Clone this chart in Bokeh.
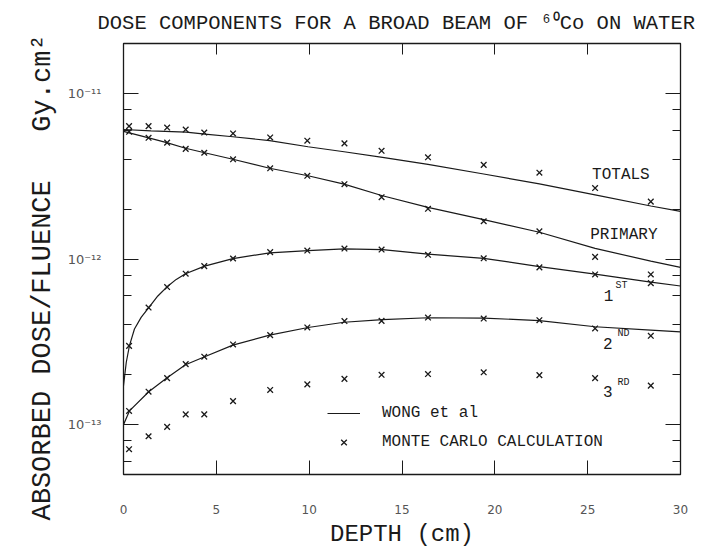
from bokeh.plotting import figure
from bokeh.models import (LogAxis, LinearAxis, Legend, LegendItem, Title, Range1d,
                          FixedTicker, LogTicker, CustomJSTickFormatter, ColumnDataSource)
from bokeh.core.properties import value
from bokeh.embed import file_html
from bokeh.resources import INLINE

FONT = "Liberation Mono"
INK = "#1a1a1a"

# ---- Monte Carlo calculation (crosses) ----
mc_depth = [0.3, 1.35, 2.35, 3.35, 4.35, 5.9, 7.9, 9.9, 11.9, 13.9, 16.4, 19.4, 22.4, 25.4, 28.4]
mc_total = [6.34e-12, 6.34e-12, 6.22e-12, 6.05e-12, 5.80e-12, 5.73e-12, 5.42e-12, 5.18e-12,
            4.99e-12, 4.50e-12, 4.11e-12, 3.70e-12, 3.32e-12, 2.68e-12, 2.22e-12]
mc_primary = [5.86e-12, 5.39e-12, 5.04e-12, 4.62e-12, 4.38e-12, 4.00e-12, 3.53e-12, 3.18e-12,
              2.83e-12, 2.36e-12, 2.01e-12, 1.69e-12, 1.47e-12, 1.03e-12, 8.07e-13]
mc_first = [2.99e-13, 5.09e-13, 6.77e-13, 8.15e-13, 9.06e-13, 1.007e-12, 1.10e-12, 1.125e-12,
            1.156e-12, 1.14e-12, 1.06e-12, 1.01e-12, 8.9e-13, 8.07e-13, 7.15e-13]
mc_second = [1.21e-13, 1.58e-13, 1.91e-13, 2.32e-13, 2.57e-13, 3.05e-13, 3.47e-13, 3.86e-13,
             4.22e-13, 4.23e-13, 4.43e-13, 4.37e-13, 4.27e-13, 3.81e-13, 3.44e-13]
mc_third = [7.11e-14, 8.51e-14, 9.69e-14, 1.153e-13, 1.153e-13, 1.387e-13, 1.62e-13, 1.75e-13,
            1.89e-13, 2.00e-13, 2.02e-13, 2.07e-13, 1.99e-13, 1.91e-13, 1.72e-13]

# ---- Wong et al (solid curves) ----
wong_total_depth = [0, 1.48, 3.37, 4.39, 5.89, 7.87, 9.94, 11.88, 13.95, 16.4, 19.4, 22.4, 25.4, 28.4, 30]
wong_total = [6.05e-12, 5.94e-12, 5.83e-12, 5.67e-12, 5.47e-12, 5.18e-12, 4.76e-12, 4.44e-12,
              4.11e-12, 3.73e-12, 3.26e-12, 2.84e-12, 2.44e-12, 2.09e-12, 1.94e-12]

wong_primary_depth = [0, 1.36, 2.33, 3.34, 4.37, 5.89, 7.87, 9.94, 11.88, 13.95, 16.4, 19.4, 22.4, 25.4, 28.4, 30]
wong_primary = [5.9e-12, 5.39e-12, 5.04e-12, 4.66e-12, 4.38e-12, 4.0e-12, 3.53e-12, 3.18e-12,
                2.83e-12, 2.41e-12, 2.05e-12, 1.73e-12, 1.45e-12, 1.16e-12, 9.7e-13, 8.9e-13]

wong_first_depth = [0, 0.15, 0.32, 0.59, 0.95, 1.36, 1.85, 2.33, 2.84, 3.34, 4.37, 5.89, 7.87,
                    9.94, 11.88, 13.95, 16.4, 19.4, 22.4, 25.4, 28.4, 30]
wong_first = [1.72e-13, 2.38e-13, 3.0e-13, 3.78e-13, 4.44e-13, 5.09e-13, 5.98e-13, 6.77e-13,
              7.53e-13, 8.15e-13, 9.06e-13, 1.005e-12, 1.09e-12, 1.125e-12, 1.15e-12, 1.14e-12,
              1.07e-12, 1.01e-12, 9.0e-13, 8.1e-13, 7.25e-13, 6.87e-13]

wong_second_depth = [0, 0.32, 1.36, 2.33, 3.34, 4.37, 5.89, 7.87, 9.94, 11.88, 13.95, 16.4,
                     19.4, 22.4, 25.4, 28.4, 30]
wong_second = [1.0e-13, 1.21e-13, 1.58e-13, 1.91e-13, 2.30e-13, 2.57e-13, 3.02e-13, 3.47e-13,
               3.86e-13, 4.15e-13, 4.30e-13, 4.42e-13, 4.40e-13, 4.25e-13, 3.90e-13, 3.72e-13, 3.63e-13]

x_ticks = [0, 5, 10, 15, 20, 25, 30]

p = figure(width=703, height=551, x_range=Range1d(0, 30), y_range=Range1d(5e-14, 2e-11),
           y_axis_type="log", output_backend="svg", toolbar_location=None,
           min_border_left=123, min_border_right=23, min_border_top=43, min_border_bottom=77)
p.grid.visible = False
p.outline_line_color = INK
p.outline_line_width = 1.3
p.background_fill_color = "white"
p.border_fill_color = "white"

sup_fmt = CustomJSTickFormatter(code="""
const e = Math.round(Math.log10(tick));
const sup = {"-":"\u207b","0":"\u2070","1":"\u00b9","2":"\u00b2","3":"\u00b3","4":"\u2074",
             "5":"\u2075","6":"\u2076","7":"\u2077","8":"\u2078","9":"\u2079"};
return "10" + String(e).split("").map(c => sup[c]).join("");
""")
blank_fmt = CustomJSTickFormatter(code="return ' ';")

# bottom axis
xa = p.xaxis[0]
xa.ticker = FixedTicker(ticks=x_ticks)
xa.major_tick_in = 14
xa.major_tick_out = 0
xa.minor_tick_in = 0
xa.minor_tick_out = 0
xa.axis_line_color = INK
xa.major_tick_line_color = INK
xa.major_label_standoff = 30
xa.major_label_text_font = "DejaVu Sans"
xa.major_label_text_font_size = "12px"
xa.major_label_text_color = "#555"
xa.axis_label = "DEPTH (cm)"
xa.axis_label_text_font = FONT
xa.axis_label_text_font_size = "24px"
xa.axis_label_text_font_style = "normal"
xa.axis_label_text_color = INK
xa.axis_label_standoff = 4

# left axis
ya = p.yaxis[0]
ya.ticker = LogTicker()
ya.formatter = sup_fmt
ya.major_tick_in = 15
ya.major_tick_out = 0
ya.minor_tick_in = 8
ya.minor_tick_out = 0
ya.axis_line_color = INK
ya.major_tick_line_color = INK
ya.minor_tick_line_color = INK
ya.major_label_standoff = 22
ya.major_label_text_font = "DejaVu Sans"
ya.major_label_text_font_size = "13px"
ya.major_label_text_color = "#555"

# right and top frame axes (ticks only)
ra = LogAxis(ticker=LogTicker(), formatter=blank_fmt, major_tick_in=15, major_tick_out=0,
             minor_tick_in=8, minor_tick_out=0, major_label_text_font_size="4px",
             major_label_standoff=0, axis_line_color=INK, major_tick_line_color=INK,
             minor_tick_line_color=INK)
p.add_layout(ra, "right")
ta = LinearAxis(ticker=FixedTicker(ticks=x_ticks), formatter=blank_fmt, major_tick_in=11,
                major_tick_out=0, minor_tick_in=0, minor_tick_out=0,
                major_label_text_font_size="4px", major_label_standoff=0,
                axis_line_color=INK, major_tick_line_color=INK)
p.add_layout(ta, "above")

# chart title
p.title.text = "DOSE COMPONENTS FOR A BROAD BEAM OF \u2076\u2070Co ON WATER"
p.title.text_font = FONT
p.title.text_font_size = "20.5px"
p.title.text_font_style = "normal"
p.title.text_color = INK
p.title.align = "left"
p.title.offset = -26
p.title.standoff = 2

# vertical quantity label, to the left of the tick labels
p.add_layout(Title(text="ABSORBED DOSE/FLUENCE\u00a0\u00a0\u00a0Gy.cm\u00b2", text_font=FONT,
                   text_font_size="27px", text_font_style="normal", text_color=INK,
                   align="left", offset=-46, vertical_align="top", standoff=10), "left")

# curves
line_kw = dict(line_color=INK, line_width=1.2)
r_wong = p.line(wong_total_depth, wong_total, **line_kw)
p.line(wong_primary_depth, wong_primary, **line_kw)
p.line(wong_first_depth, wong_first, **line_kw)
p.line(wong_second_depth, wong_second, **line_kw)

# Monte Carlo crosses
mk_kw = dict(marker="x", size=8, line_color=INK, line_width=1.3)
r_mc = p.scatter(mc_depth, mc_total, **mk_kw)
p.scatter(mc_depth, mc_primary, **mk_kw)
p.scatter(mc_depth, mc_first, **mk_kw)
p.scatter(mc_depth, mc_second, **mk_kw)
p.scatter(mc_depth, mc_third, **mk_kw)

# component names
names = ColumnDataSource(dict(x=[26.79, 26.95, 26.12, 26.09, 26.09],
                              y=[3.22e-12, 1.40e-12, 6.04e-13, 3.11e-13, 1.59e-13],
                              t=["TOTALS", "PRIMARY", "1", "2", "3"]))
p.text(x="x", y="y", text="t", source=names, text_font=value(FONT), text_font_size="16px",
       text_color=INK, text_align="center", text_baseline="middle")
sups = ColumnDataSource(dict(x=[26.82, 26.93, 26.93], y=[6.89e-13, 3.57e-13, 1.79e-13],
                             t=["ST", "ND", "RD"]))
p.text(x="x", y="y", text="t", source=sups, text_font=value(FONT), text_font_size="10px",
       text_color=INK, text_align="center", text_baseline="middle")

legend = Legend(items=[LegendItem(label="WONG et al", renderers=[r_wong]),
                       LegendItem(label="MONTE CARLO CALCULATION", renderers=[r_mc])],
                location=(204, 22), glyph_width=33, glyph_height=20, label_height=20,
                label_standoff=22, spacing=9, padding=0, margin=0,
                border_line_alpha=0, background_fill_alpha=0,
                label_text_font=FONT, label_text_font_size="16px", label_text_color=INK)
p.add_layout(legend)

open("out.html", "w").write(file_html(p, INLINE))
